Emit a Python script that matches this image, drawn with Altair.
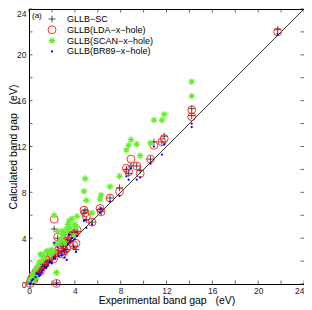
import altair as alt
import pandas as pd

series_names = ["GLLB−SC", "GLLB(LDA−x−hole)", "GLLB(SCAN−x−hole)", "GLLB(BR89−x−hole)"]

exp_gap = [0.1, 0.15, 0.24, 0.34, 0.42, 0.58, 0.67, 0.8, 0.9, 1.0, 1.1, 1.2, 1.35, 1.5, 1.65,
           1.8, 1.9, 2.0, 2.15, 2.2, 2.3, 2.4, 2.5, 2.6, 2.8, 2.9, 3.0, 3.1, 3.2, 3.3, 3.4,
           3.5, 3.6, 3.75, 3.9, 4.0, 4.1, 4.2, 4.8, 4.9, 5.0, 5.5, 6.2, 6.3, 7.07, 7.9, 8.5,
           8.7, 8.9, 9.4, 9.7, 10.6, 10.9, 11.6, 11.8, 14.2, 14.2, 21.7]
gllb_sc = [0.0, 0.2, 0.5, 0.6, 0.3, 0.9, 0.8, 1.2, 1.1, 1.5, 1.4, 1.7, 1.6, 2.0, 1.9,
           2.1, 2.6, 2.5, 2.4, 4.8, 2.6, 0.1, 4.0, 2.9, 2.7, 3.5, 3.3, 2.8, 3.6, 3.0, 3.9,
           4.3, 3.8, 4.3, 3.3, 4.5, 3.0, 4.6, 6.2, 6.4, 5.6, 5.4, 6.5, 6.3, 7.5, 8.4, 10.0,
           9.65, 10.3, 10.3, 9.9, 10.9, 12.4, 12.4, 12.9, 15.3, 14.7, 22.2]
gllb_lda = [0.05, 0.3, 0.5, 0.7, 0.35, 1.0, 0.9, 1.3, 1.2, 1.1, 1.5, 1.8, 1.7, 2.0, 2.1,
            2.2, 2.7, 2.6, 2.2, 5.65, 2.7, 0.05, 4.1, 3.0, 2.8, 2.6, 3.4, 2.9, 3.7, 3.1, 4.0,
            4.2, 3.9, 4.3, 3.4, 4.4, 3.55, 4.7, 6.45, 6.2, 5.9, 5.4, 6.6, 6.3, 7.5, 8.05, 10.1,
            9.8, 10.9, 10.3, 9.65, 10.9, 12.1, 12.4, 12.7, 15.2, 14.6, 22.0]
gllb_scan = [0.3, 0.4, 0.7, 0.9, 0.2, 1.3, 0.6, 1.6, 1.9, 2.6, 2.0, 2.5, 2.3, 2.8, 2.9,
             2.7, 2.5, 3.0, 2.8, 6.0, 3.5, 1.0, 4.6, 3.6, 3.9, 4.6, 4.3, 3.6, 4.5, 4.8, 5.2,
             5.5, 4.9, 5.7, 4.2, 5.2, 5.0, 5.9, 8.1, 9.2, 7.3, 6.2, 7.4, 7.75, 8.5, 9.4, 11.7,
             12.1, 12.6, 12.2, 11.2, 12.3, 14.3, 14.3, 14.8, 17.65, 16.4, None]
gllb_br89 = [0.0, 0.1, 0.3, 0.4, 0.0, 0.6, 0.9, 0.9, 0.7, 0.8, 1.0, 1.2, 1.5, 1.4, 1.6,
             1.9, 1.9, 1.8, 2.3, 3.6, 2.2, 0.0, 3.2, 2.4, 2.5, 2.5, 2.9, 2.3, 3.0, 2.1, 3.5,
             4.3, 3.7, 4.0, 3.2, 3.9, 2.8, 4.2, 5.5, 5.6, 4.9, 5.2, 6.2, 6.6, 7.2, 7.7, 9.4,
             9.1, 10.1, 9.1, 9.3, 10.5, 12.0, 11.3, 12.2, 14.0, 13.7, 21.8]

axis_ticks = list(range(0, 25, 2))
diag = [0, 24]

FONT = "Liberation Sans"
W = H = 275

xscale = alt.Scale(domain=[0, 24], nice=False, zero=False)
yscale = alt.Scale(domain=[0, 24], nice=False, zero=False)

plus_path = "M-1,0L1,0M0,-1L0,1"
star_path = "M-1,0L1,0M0,-1L0,1M-0.7,-0.7L0.7,0.7M-0.7,0.7L0.7,-0.7"

styles = [
    dict(shape=plus_path, filled=False, color="#222222", size=45, strokeWidth=0.8),
    dict(shape="circle", filled=False, color="#ff0000", size=62, strokeWidth=0.8),
    dict(shape=star_path, filled=False, color="#66ee33", size=42, strokeWidth=1.2),
    dict(shape="circle", filled=True, color="#0000ff", size=5, strokeWidth=0),
]

x_enc = alt.X("exp:Q", scale=xscale, axis=alt.Axis(
    values=axis_ticks, title="Experimental band gap\u00a0\u00a0\u00a0(eV)",
    labelAlign=alt.condition("datum.value == 24", alt.value("right"), alt.value("center")),
))
y_enc = alt.Y("calc:Q", scale=yscale, axis=alt.Axis(
    values=axis_ticks, title="Calculated band gap\u00a0\u00a0\u00a0(eV)",
    labelBaseline=alt.condition("datum.value == 24", alt.value("top"), alt.value("middle")),
    titleX=-11, titleY=H / 2,
))

diag_line = alt.Chart(pd.DataFrame({"exp": diag, "calc": diag})).mark_line(
    color="#000000", strokeWidth=0.8).encode(x=x_enc, y=y_enc)

layers = [diag_line]

tick_df = pd.DataFrame({"t": axis_ticks})
tick_len = 3.5
rule = dict(color="#000000", strokeWidth=0.6)
layers += [
    alt.Chart(tick_df).mark_rule(**rule).encode(
        x=alt.X("t:Q", scale=xscale), y=alt.value(H), y2=alt.value(H - tick_len)),
    alt.Chart(tick_df).mark_rule(**rule).encode(
        x=alt.X("t:Q", scale=xscale), y=alt.value(0), y2=alt.value(tick_len)),
    alt.Chart(tick_df).mark_rule(**rule).encode(
        y=alt.Y("t:Q", scale=yscale), x=alt.value(0), x2=alt.value(tick_len)),
    alt.Chart(tick_df).mark_rule(**rule).encode(
        y=alt.Y("t:Q", scale=yscale), x=alt.value(W), x2=alt.value(W - tick_len)),
]

for name, vals, st in zip(series_names, [gllb_sc, gllb_lda, gllb_scan, gllb_br89], styles):
    d = pd.DataFrame([{"exp": e, "calc": v} for e, v in zip(exp_gap, vals) if v is not None])
    layers.append(alt.Chart(d).mark_point(opacity=1, **st).encode(x=alt.X("exp:Q", scale=xscale),
                                                                   y=alt.Y("calc:Q", scale=yscale)))

# legend (drawn inside the plot, top-left)
leg_y = [10, 20.8, 31.6, 42.4]
for name, st, yy in zip(series_names, styles, leg_y):
    ld = pd.DataFrame({"label": [name]})
    layers.append(alt.Chart(ld).mark_point(opacity=1, **st).encode(x=alt.value(23), y=alt.value(yy)))
    layers.append(alt.Chart(ld).mark_text(font=FONT, fontSize=9, align="left", baseline="middle",
                                          color="#000000").encode(
        text="label:N", x=alt.value(38), y=alt.value(yy)))

layers.append(alt.Chart(pd.DataFrame({"t": ["(a)"]})).mark_text(
    font=FONT, fontSize=8, align="left", baseline="middle", color="#000000"
).encode(text="t:N", x=alt.value(3), y=alt.value(7)))

chart = alt.layer(*layers).properties(
    width=W, height=H, autosize="none",
    padding={"left": 21, "top": 1, "right": 0, "bottom": 24},
).configure_view(stroke="#000000", strokeWidth=1).configure_axis(
    ticks=False, domain=False, grid=False, labelFont=FONT, labelFontSize=8.5,
    labelColor="#222222", titleFont=FONT, titleFontSize=10.5, titleFontWeight="normal",
    titleColor="#000000", labelPadding=2,
).configure_axisX(titlePadding=1).configure_axisY(labelPadding=3)

chart.save("out.html", embed_options={"renderer": "svg", "actions": False})
